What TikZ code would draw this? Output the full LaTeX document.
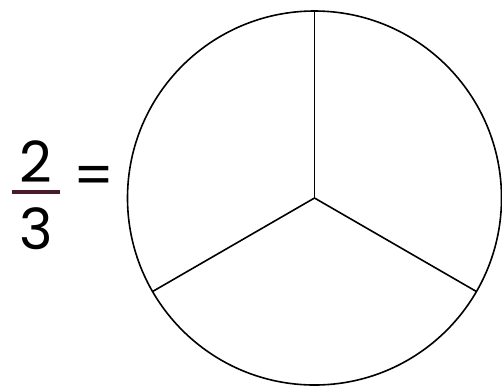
\documentclass[tikz,border=0pt]{standalone}
\usepackage{fontspec}
\setmainfont{Poppins}
\usetikzlibrary{calc}
\definecolor{frac-maroon}{HTML}{4A1A2E}

\begin{document}
\begin{tikzpicture}[
    x=1bp, y=-1bp,
    digit/.style={inner sep=0pt, font=\fontsize{57}{60}\selectfont},
    fracbar/.style={draw=frac-maroon, line width=3.5bp},
    part/.style={draw=black, line width=1.6bp}
]
    \useasboundingbox (0,0) rectangle (502,389);

    % fraction 2/3
    \node[digit] (num) at (36, 162) {2};
    \node[digit] (den) at (36, 229) {3};
    \coordinate (barl) at (12, 192);
    \coordinate (barr) at (60, 192);
    \draw[fracbar] (barl) -- (barr);
    \node[digit] (eq) at (94, 181) {=};

    % circle cut in three
    \coordinate (ctr) at (314.5, 198);
    \draw[part] (ctr) circle[radius=187];
    \coordinate (top) at ($(ctr)+(0,-187)$);
    \coordinate (lowl) at ($(ctr)+(-161.9,93.5)$);
    \coordinate (lowr) at ($(ctr)+(161.9,93.5)$);
    \draw[part] (ctr) -- (top);
    \draw[part] (ctr) -- (lowl);
    \draw[part] (ctr) -- (lowr);
\end{tikzpicture}
\end{document}
